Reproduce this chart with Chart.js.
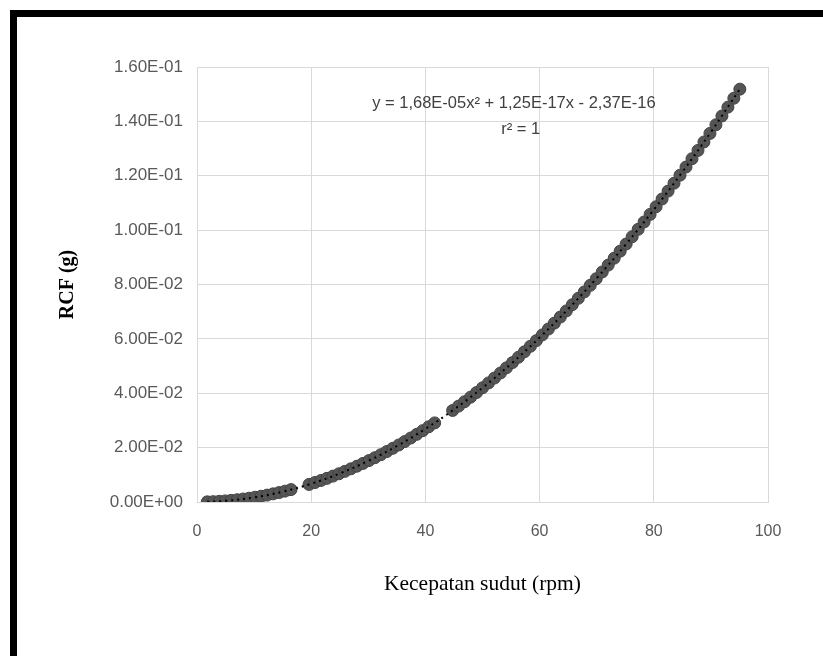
<!DOCTYPE html>
<html>
<head>
<meta charset="utf-8">
<script src="https://cdn.jsdelivr.net/npm/chart.js@4.4.0/dist/chart.umd.min.js"></script>
<style>
  html, body { margin: 0; padding: 0; background: #fff; }
  body { width: 823px; height: 656px; position: relative; overflow: hidden; }
  #frame {
    position: absolute; left: 10px; top: 10px; right: -10px; bottom: -10px;
    border-top: 7px solid #000; border-left: 7px solid #000;
  }
  #chart { position: absolute; left: 0; top: 0; }
</style>
</head>
<body>
<div id="frame"></div>
<canvas id="chart" width="823" height="656"></canvas>
<script>
// angular speed values
const speed = [
  1.80, 2.85, 3.90, 4.94, 5.99, 7.04, 8.09, 9.14, 10.18, 11.23, 12.28, 13.33, 14.38, 15.42, 16.47,
  19.62, 20.66, 21.71, 22.76, 23.81, 24.86, 25.90, 26.95, 28.00, 29.05, 30.10, 31.14, 32.19, 33.24,
  34.29, 35.34, 36.38, 37.43, 38.48, 39.53, 40.58, 41.62,
  44.77, 45.82, 46.86, 47.91, 48.96, 50.01, 51.06, 52.10, 53.15, 54.20, 55.25, 56.30, 57.34, 58.39,
  59.44, 60.49, 61.54, 62.58, 63.63, 64.68, 65.73, 66.78, 67.82, 68.87, 69.92, 70.97, 72.02, 73.06,
  74.11, 75.16, 76.21, 77.26, 78.30, 79.35, 80.40, 81.45, 82.50, 83.54, 84.59, 85.64, 86.69, 87.74,
  88.78, 89.83, 90.88, 91.93, 92.98, 94.02, 95.07
];
const rcf = [
  0.0000544, 0.000136, 0.000256, 0.000410, 0.000603, 0.000833, 0.00110, 0.00140, 0.00174, 0.00212,
  0.00253, 0.00299, 0.00347, 0.00400, 0.00456,
  0.00647, 0.00717, 0.00792, 0.00870, 0.00952, 0.01038, 0.01127, 0.01220, 0.01317, 0.01418, 0.01522,
  0.01629, 0.01741, 0.01856, 0.01975, 0.02098, 0.02223, 0.02354, 0.02488, 0.02625, 0.02767, 0.02910,
  0.03367, 0.03527, 0.03689, 0.03856, 0.04027, 0.04202, 0.04380, 0.04560, 0.04746, 0.04935, 0.05128,
  0.05325, 0.05524, 0.05728, 0.05936, 0.06147, 0.06363, 0.06579, 0.06802, 0.07028, 0.07258, 0.07492,
  0.07727, 0.07968, 0.08213, 0.08462, 0.08714, 0.08968, 0.09227, 0.09490, 0.09757, 0.10028, 0.10300,
  0.10578, 0.10860, 0.11145, 0.11435, 0.11725, 0.12021, 0.12321, 0.12626, 0.12933, 0.13242, 0.13557,
  0.13875, 0.14198, 0.14524, 0.14851, 0.15184
];

// polynomial trendline (dotted)
const trendX = [1.8, 5, 10, 15, 20, 25, 30, 35, 40, 45, 50, 55, 60, 65, 70, 75, 80, 85, 90, 95.1];
const trendY = [0.0000544, 0.00042, 0.00168, 0.00378, 0.00672, 0.0105, 0.01512, 0.02058, 0.02688, 0.03402,
  0.042, 0.05082, 0.06048, 0.07098, 0.08232, 0.0945, 0.10752, 0.12138, 0.13608, 0.15194];

const equationText = 'y = 1,68E-05x\u00B2 + 1,25E-17x - 2,37E-16';
const rSquaredText = 'r\u00B2 = 1';

const points = speed.map((x, i) => ({ x: x, y: rcf[i] }));
const trend = trendX.map((x, i) => ({ x: x, y: trendY[i] }));

function formatSci(value) {
  let s = Number(value).toExponential(2).toUpperCase();
  return s.replace(/E([+-])(\d)$/, 'E$10$2');
}

const equationLabel = {
  id: 'equationLabel',
  afterDatasetsDraw(chart) {
    const ctx = chart.ctx;
    const xs = chart.scales.x;
    const ys = chart.scales.y;
    ctx.save();
    ctx.fillStyle = '#404040';
    ctx.font = '16.5px "Liberation Sans", Arial, sans-serif';
    ctx.textAlign = 'center';
    ctx.textBaseline = 'middle';
    ctx.fillText(equationText, xs.getPixelForValue(55.5), ys.getPixelForValue(0.1467));
    ctx.fillText(rSquaredText, xs.getPixelForValue(56.7), ys.getPixelForValue(0.1371));
    ctx.restore();
  }
};

const gridColor = '#d9d9d9';

new Chart(document.getElementById('chart'), {
  type: 'scatter',
  data: {
    datasets: [
      {
        label: 'trend',
        type: 'line',
        data: trend,
        borderColor: '#000',
        borderWidth: 2,
        borderDash: [2, 4],
        pointRadius: 0,
        fill: false,
        tension: 0.4,
        order: 0
      },
      {
        label: 'RCF',
        data: points,
        backgroundColor: '#555555',
        borderColor: '#444444',
        borderWidth: 1,
        pointRadius: 6,
        order: 1
      }
    ]
  },
  options: {
    responsive: false,
    animation: false,
    layout: { padding: { left: 0, top: 67, right: 55, bottom: 59 } },
    plugins: {
      legend: { display: false },
      tooltip: { enabled: false }
    },
    scales: {
      x: {
        type: 'linear',
        min: 0,
        max: 100,
        ticks: { stepSize: 20, color: '#595959', font: { family: '"Liberation Sans", Arial, sans-serif', size: 16 }, padding: 20 },
        grid: { color: gridColor, drawTicks: false },
        border: { color: gridColor },
        title: {
          display: true,
          text: 'Kecepatan sudut (rpm)',
          color: '#000',
          font: { family: '"Liberation Serif", "Times New Roman", serif', size: 21.5 },
          padding: { top: 10, bottom: 0 }
        }
      },
      y: {
        type: 'linear',
        min: 0,
        max: 0.16,
        ticks: {
          stepSize: 0.02,
          color: '#595959',
          font: { family: '"Liberation Sans", Arial, sans-serif', size: 17 },
          padding: 14,
          callback: (v) => formatSci(v)
        },
        grid: { color: gridColor, drawTicks: false },
        border: { color: gridColor },
        title: {
          display: true,
          text: 'RCF (g)',
          color: '#000',
          font: { family: '"Liberation Serif", "Times New Roman", serif', size: 20, weight: 'bold' },
          padding: { top: 56, bottom: 0 }
        },
        afterFit: (scale) => { scale.width = 197; }
      }
    }
  },
  plugins: [equationLabel]
});
</script>
</body>
</html>
